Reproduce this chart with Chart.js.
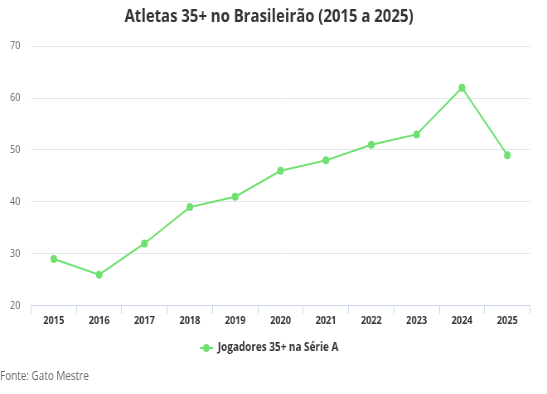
<!DOCTYPE html>
<html>
<head>
<meta charset="utf-8">
<script src="https://cdn.jsdelivr.net/npm/chart.js@4/dist/chart.umd.min.js"></script>
<style>
  html, body { margin: 0; padding: 0; background: #fff; }
  /* o gráfico é desenhado com 660px e comprimido para 547px na horizontal */
  #chart { display: block; width: 547px; height: 394px; }
</style>
</head>
<body>
<canvas id="chart" width="660" height="394" style="width:547px;height:394px"></canvas>
<script>
// dados do gráfico
var anos = ["2015", "2016", "2017", "2018", "2019", "2020", "2021", "2022", "2023", "2024", "2025"];
var jogadores35 = [29, 26, 32, 39, 41, 46, 48, 51, 53, 62, 49];
var yTicks = [20, 30, 40, 50, 60, 70];

var green = "rgb(112, 224, 112)";
var fontFamily = "'Open Sans', 'Noto Sans', sans-serif";

// marcador da legenda: linha com bolinha
var marker = document.createElement("canvas");
marker.width = 16;
marker.height = 10;
var mctx = marker.getContext("2d");
mctx.strokeStyle = green;
mctx.lineWidth = 2;
mctx.beginPath();
mctx.moveTo(0, 5);
mctx.lineTo(16, 5);
mctx.stroke();
mctx.fillStyle = green;
mctx.beginPath();
mctx.arc(8, 5, 4, 0, Math.PI * 2);
mctx.fill();

// texto da fonte no rodapé
var fontePlugin = {
    id: "fonte",
    afterDraw: function (chart) {
        var ctx = chart.ctx;
        ctx.save();
        ctx.font = "12px " + fontFamily;
        ctx.fillStyle = "#666666";
        ctx.textAlign = "left";
        ctx.textBaseline = "middle";
        ctx.fillText("Fonte: Gato Mestre", 0, 377);
        ctx.restore();
    }
};

var ctx = document.getElementById("chart").getContext("2d");
var chart = new Chart(ctx, {
    type: "line",
    data: {
        labels: anos,
        datasets: [
            {
                label: "Jogadores 35+ na Série A",
                data: jogadores35,
                yAxisID: "y",
                borderColor: green,
                backgroundColor: green,
                borderWidth: 2,
                pointRadius: 4,
                pointHoverRadius: 5,
                pointBackgroundColor: green,
                pointBorderWidth: 0,
                tension: 0,
            },
        ],
    },
    options: {
        responsive: false,
        devicePixelRatio: 1,
        animation: false,
        layout: {
            padding: { left: 0, right: 11, top: 0, bottom: 30 },
        },
        plugins: {
            title: {
                display: true,
                text: "Atletas 35+ no Brasileirão (2015 a 2025)",
                color: "#333333",
                font: { family: fontFamily, size: 18, weight: "bold" },
                padding: { top: 6.5, bottom: 18 },
            },
            legend: {
                position: "bottom",
                labels: {
                    usePointStyle: true,
                    pointStyleWidth: 16,
                    color: "#333333",
                    font: { family: fontFamily, size: 12, weight: "bold" },
                    padding: 15,
                    generateLabels: function (chart) {
                        var items = Chart.defaults.plugins.legend.labels.generateLabels(chart);
                        items.forEach(function (it) { it.pointStyle = marker; });
                        return items;
                    },
                },
            },
            tooltip: { enabled: false },
        },
        scales: {
            x: {
                offset: true,
                grid: {
                    offset: true,
                    drawOnChartArea: false,
                    drawTicks: true,
                    tickLength: 8,
                    color: "#ccd6eb",
                },
                border: { color: "#ccd6eb", width: 1 },
                ticks: {
                    color: "#333333",
                    font: { family: fontFamily, size: 11, weight: "bold" },
                    padding: 0,
                    maxRotation: 0,
                },
            },
            y: {
                position: "left",
                min: 20,
                max: 70,
                afterBuildTicks: function (axis) {
                    axis.ticks = yTicks.map(function (v) { return { value: v }; });
                },
                afterFit: function (axis) { axis.width = 37.5; },
                grid: {
                    color: "#e6e6e6",
                    drawTicks: false,
                },
                border: { display: false },
                ticks: {
                    color: "#666666",
                    font: { family: fontFamily, size: 11 },
                    padding: 13,
                },
            },
            // eixo vazio só para dar a margem direita
            yRight: {
                position: "right",
                display: true,
                grid: { display: false, drawTicks: false },
                border: { display: false },
                ticks: { display: false },
                afterFit: function (axis) { axis.width = 9.5; },
            },
        },
    },
    plugins: [fontePlugin],
});
</script>
</body>
</html>
